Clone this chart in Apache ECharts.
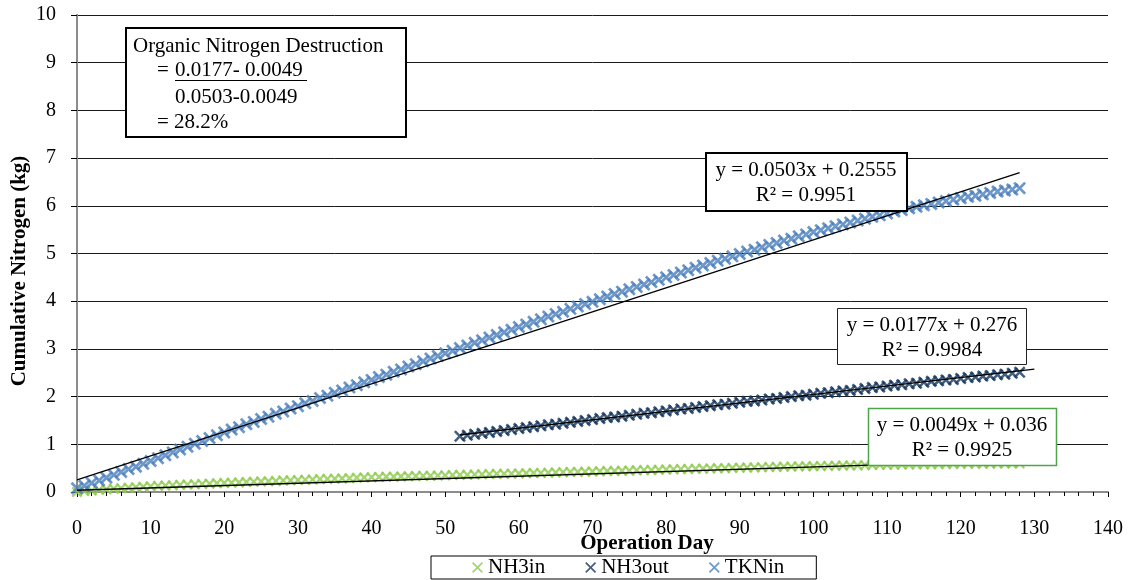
<!DOCTYPE html>
<html>
<head>
<meta charset="utf-8">
<script src="https://cdn.jsdelivr.net/npm/echarts@6/dist/echarts.min.js"></script>
<style>html,body{margin:0;padding:0;background:#fff}#c{width:1132px;height:580px}</style>
</head>
<body>
<div id="c"></div>
<script>
// ---- data ----
const seriesNames = ['NH3in', 'NH3out', 'TKNin'];
const xTicks = [0, 10, 20, 30, 40, 50, 60, 70, 80, 90, 100, 110, 120, 130, 140];
const yTicks = [0, 1, 2, 3, 4, 5, 6, 7, 8, 9, 10];

const nh3inStartDay = 0;
const nh3inValues = [
  0.00, 0.02, 0.03, 0.045, 0.06, 0.07, 0.08, 0.09, 0.10, 0.11,
  0.12, 0.13, 0.135, 0.14, 0.15, 0.155, 0.16, 0.17, 0.175, 0.185,
  0.19, 0.195, 0.20, 0.21, 0.215, 0.22, 0.225, 0.23, 0.24, 0.245,
  0.25, 0.255, 0.26, 0.27, 0.275, 0.28, 0.285, 0.29, 0.30, 0.305,
  0.31, 0.315, 0.32, 0.32, 0.325, 0.33, 0.335, 0.34, 0.34, 0.345,
  0.35, 0.355, 0.36, 0.36, 0.365, 0.37, 0.375, 0.38, 0.38, 0.385,
  0.39, 0.395, 0.40, 0.40, 0.405, 0.41, 0.415, 0.42, 0.42, 0.425,
  0.43, 0.435, 0.44, 0.44, 0.445, 0.45, 0.455, 0.46, 0.46, 0.465,
  0.47, 0.475, 0.48, 0.48, 0.485, 0.49, 0.495, 0.50, 0.50, 0.505,
  0.51, 0.513, 0.516, 0.52, 0.523, 0.526, 0.53, 0.533, 0.536, 0.54,
  0.54, 0.543, 0.546, 0.55, 0.553, 0.556, 0.56, 0.563, 0.566, 0.57,
  0.57, 0.572, 0.574, 0.576, 0.578, 0.58, 0.582, 0.584, 0.586, 0.588,
  0.59, 0.591, 0.592, 0.593, 0.594, 0.595, 0.597, 0.598, 0.60
];

const nh3outStartDay = 52;
const nh3outValues = [
  1.17, 1.19, 1.21, 1.23, 1.25, 1.27, 1.29, 1.31,
  1.33, 1.35, 1.37, 1.39, 1.41, 1.42, 1.44, 1.46, 1.48, 1.50,
  1.52, 1.54, 1.56, 1.57, 1.59, 1.61, 1.63, 1.65, 1.66, 1.68,
  1.70, 1.72, 1.74, 1.75, 1.77, 1.79, 1.81, 1.83, 1.84, 1.86,
  1.88, 1.90, 1.91, 1.93, 1.95, 1.96, 1.98, 2.00, 2.02, 2.03,
  2.05, 2.07, 2.08, 2.10, 2.12, 2.13, 2.15, 2.17, 2.19, 2.20,
  2.22, 2.24, 2.25, 2.27, 2.28, 2.30, 2.32, 2.33, 2.35, 2.36,
  2.38, 2.40, 2.41, 2.43, 2.44, 2.46, 2.47, 2.49, 2.51
];

const tkninStartDay = 0;
const tkninValues = [
  0.08, 0.13, 0.19, 0.24, 0.30, 0.36, 0.42, 0.48, 0.53, 0.59,
  0.65, 0.71, 0.77, 0.83, 0.89, 0.95, 1.01, 1.07, 1.13, 1.19,
  1.25, 1.31, 1.36, 1.42, 1.47, 1.53, 1.58, 1.64, 1.69, 1.75,
  1.80, 1.86, 1.91, 1.97, 2.02, 2.08, 2.13, 2.19, 2.24, 2.30,
  2.35, 2.41, 2.46, 2.52, 2.57, 2.63, 2.68, 2.74, 2.80, 2.85,
  2.91, 2.96, 3.02, 3.07, 3.13, 3.18, 3.24, 3.29, 3.35, 3.40,
  3.46, 3.51, 3.57, 3.62, 3.68, 3.73, 3.78, 3.84, 3.89, 3.94,
  3.99, 4.04, 4.10, 4.15, 4.20, 4.25, 4.30, 4.35, 4.40, 4.45,
  4.50, 4.55, 4.60, 4.65, 4.70, 4.75, 4.80, 4.85, 4.89, 4.94,
  4.99, 5.04, 5.08, 5.13, 5.18, 5.22, 5.27, 5.31, 5.36, 5.40,
  5.45, 5.49, 5.53, 5.57, 5.61, 5.65, 5.69, 5.73, 5.77, 5.80,
  5.84, 5.88, 5.91, 5.95, 5.98, 6.01, 6.04, 6.07, 6.10, 6.13,
  6.16, 6.19, 6.21, 6.24, 6.27, 6.30, 6.32, 6.34, 6.37
];

// linear trendlines as printed on the chart: [NH3in, NH3out, TKNin]
const trendSlopes = [0.0049, 0.0177, 0.0503];
const trendIntercepts = [0.036, 0.276, 0.2555];
const trendR2 = ['0.9925', '0.9984', '0.9951'];
const trendFromDay = [0, 52, 0];
const trendToDay = [128, 130, 128];

const noteLines = ['Organic Nitrogen Destruction', '= ', '0.0177- 0.0049', '0.0503-0.0049', '= 28.2%'];

// ---- chart ----
const colors = ['#8FCB4C', '#17375E', '#4A7EBB'];
const FONT = '"Liberation Serif", "Times New Roman", serif';
const X_PATH = 'path://M1.5,0L5,3.5L8.5,0L10,1.5L6.5,5L10,8.5L8.5,10L5,6.5L1.5,10L0,8.5L3.5,5L0,1.5Z';
const X_LEGEND = 'path://M1.1,0L5,3.9L8.9,0L10,1.1L6.1,5L10,8.9L8.9,10L5,6.1L1.1,10L0,8.9L3.9,5L0,1.1Z';

function pairs(start, vals) { return vals.map((v, i) => [start + i, v]); }
const scatterData = [
  pairs(nh3inStartDay, nh3inValues),
  pairs(nh3outStartDay, nh3outValues),
  pairs(tkninStartDay, tkninValues)
];
const symSizes = [11, 12, 13];

const series = [];
seriesNames.forEach((n, i) => {
  series.push({
    name: n, type: 'scatter', data: scatterData[i], symbol: X_PATH, symbolSize: symSizes[i],
    itemStyle: { color: colors[i] }, z: 2 + i, silent: true
  });
});
seriesNames.forEach((n, i) => {
  const a = trendFromDay[i], b = trendToDay[i];
  series.push({
    name: n + ' trend', type: 'line', symbol: 'none', silent: true, z: 10,
    data: [[a, trendSlopes[i] * a + trendIntercepts[i]], [b, trendSlopes[i] * b + trendIntercepts[i]]],
    lineStyle: { color: '#000', width: 1.4 }
  });
});

function eqText(i) { return 'y = ' + trendSlopes[i] + 'x + ' + trendIntercepts[i]; }
const txt = (t, x, y, extra) => Object.assign({
  type: 'text', z: 101,
  style: Object.assign({ text: t, x: x, y: y, font: '21px ' + FONT, fill: '#000', align: 'left', verticalAlign: 'middle' }, extra || {})
});
const box = (x, y, w, h, stroke, lw) => ({
  type: 'rect', z: 100, shape: { x: x, y: y, width: w, height: h },
  style: { fill: '#fff', stroke: stroke, lineWidth: lw }
});

const graphic = [
  box(126, 28, 280, 109, '#000', 2),
  txt(noteLines[0], 133, 46),
  txt(noteLines[1], 157, 70),
  txt(noteLines[2], 175, 70),
  { type: 'line', z: 101, shape: { x1: 175, y1: 80.5, x2: 307, y2: 80.5 }, style: { stroke: '#000', lineWidth: 1 } },
  txt(noteLines[3], 175, 97),
  txt(noteLines[4], 157, 122),
  box(706, 153, 201, 58, '#000', 2),
  txt(eqText(2), 806, 170, { align: 'center' }),
  txt('R² = ' + trendR2[2], 806, 195, { align: 'center' }),
  box(837.5, 308.5, 189, 56, '#222', 1),
  txt(eqText(1), 932, 325, { align: 'center' }),
  txt('R² = ' + trendR2[1], 932, 350, { align: 'center' }),
  box(868.5, 408.5, 188, 57, '#4EA648', 1.5),
  txt(eqText(0), 962, 425, { align: 'center' }),
  txt('R² = ' + trendR2[0], 962, 450, { align: 'center' }),
  txt('Operation Day', 647, 544, { align: 'center', font: 'bold 21px ' + FONT }),
  { type: 'text', z: 101, x: 20, y: 271, rotation: Math.PI / 2,
    style: { text: 'Cumulative Nitrogen (kg)', x: 0, y: 0, font: 'bold 21px ' + FONT, fill: '#000', align: 'center', verticalAlign: 'middle' } }
];

const chart = echarts.init(document.getElementById('c'), null, { renderer: 'canvas' });
chart.setOption({
  animation: false,
  backgroundColor: '#fff',
  grid: { left: 77, right: 24, top: 15, bottom: 88, containLabel: false },
  legend: {
    left: 431, top: 556, orient: 'horizontal', itemGap: 40, itemWidth: 11, itemHeight: 11,
    borderColor: '#000', borderWidth: 1, padding: [1, 32, 1, 41],
    textStyle: { fontFamily: FONT, fontSize: 21, color: '#000', lineHeight: 19 },
    data: seriesNames.map(n => ({ name: n, icon: X_LEGEND })),
    selectedMode: false
  },
  xAxis: [{
    type: 'value', min: xTicks[0], max: xTicks[xTicks.length - 1], interval: 10,
    axisLine: { show: true, lineStyle: { color: '#000', width: 1 } },
    axisTick: { show: true, inside: false, length: 5, lineStyle: { color: '#000' } },
    minorTick: { show: true, splitNumber: 5, length: 4, lineStyle: { color: '#000' } },
    axisLabel: { fontFamily: FONT, fontSize: 20, color: '#000', margin: 27 },
    splitLine: { show: false }
  }, {
    type: 'value', position: 'top', min: 0, max: 140, interval: 10,
    axisLine: { show: true, lineStyle: { color: '#8c8c8c', width: 2 } },
    axisTick: { show: false }, axisLabel: { show: false }, splitLine: { show: false }
  }],
  yAxis: [{
    type: 'value', min: yTicks[0], max: yTicks[yTicks.length - 1], interval: 1,
    axisLine: { show: true, lineStyle: { color: '#000', width: 1 } },
    axisTick: { show: true, inside: false, length: 6, lineStyle: { color: '#000' } },
    axisLabel: { fontFamily: FONT, fontSize: 20, color: '#000', margin: 21 },
    splitLine: { show: true, lineStyle: { color: '#1a1a1a', width: 1 } }
  }, {
    type: 'value', position: 'right', min: 0, max: 10, interval: 1,
    axisLine: { show: true, lineStyle: { color: '#8c8c8c', width: 2 } },
    axisTick: { show: false }, axisLabel: { show: false }, splitLine: { show: false }
  }],
  series: series,
  graphic: graphic
});
</script>
</body>
</html>
